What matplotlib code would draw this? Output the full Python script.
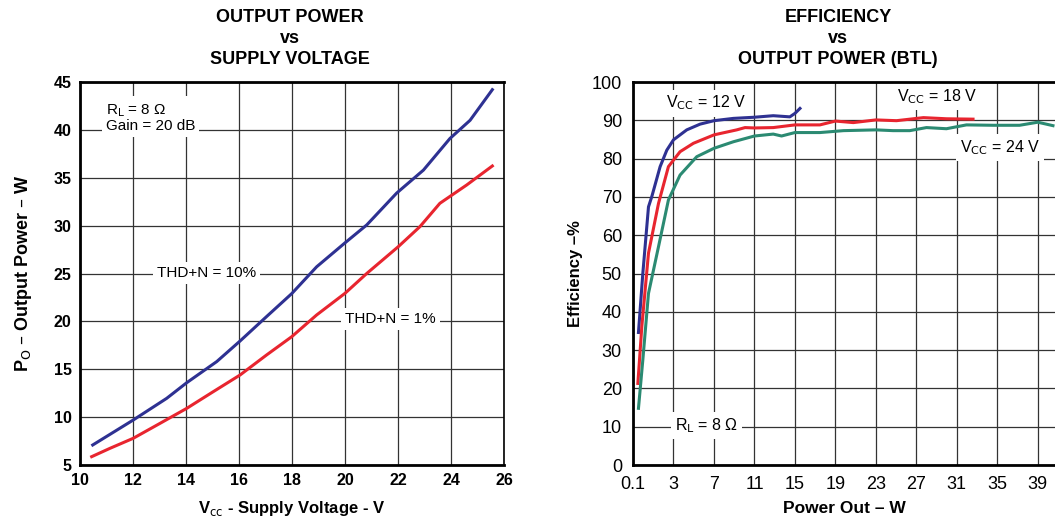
import matplotlib
matplotlib.use('Agg')
import matplotlib.pyplot as plt

plt.rcParams['font.family'] = ['Liberation Sans', 'DejaVu Sans']

# left chart: output power vs supply voltage
vcc_10 = [10.48, 12.01, 13.27, 14.03, 15.16, 16.04, 17.04, 17.99, 18.93, 20.0,
          20.82, 21.95, 22.96, 23.96, 24.72, 25.56]
po_10 = [7.09, 9.70, 11.96, 13.6, 15.8, 17.95, 20.5, 22.9, 25.7, 28.2,
         30.07, 33.4, 35.8, 39.1, 41.0, 44.2]
vcc_1 = [10.44, 11.13, 12.01, 13.02, 14.03, 15.03, 16.04, 17.04, 17.99, 18.93,
         20.0, 20.82, 22.01, 22.83, 23.58, 24.59, 25.56]
po_1 = [5.87, 6.74, 7.79, 9.35, 10.92, 12.66, 14.4, 16.49, 18.4, 20.67,
        22.93, 25.0, 27.8, 29.9, 32.33, 34.24, 36.23]

# right chart: efficiency vs output power (x in axis units, first tick "0.1" sits at -1)
p12 = [-0.46, -0.03, 0.53, 0.86, 1.68, 2.34, 3.0, 4.31, 5.63, 7.01, 8.92, 10.99,
       12.86, 14.5, 15.0, 15.5]
e12 = [34.6, 50.0, 67.4, 70.1, 77.9, 82.2, 84.9, 87.5, 89.0, 89.9, 90.5, 90.8,
       91.2, 90.9, 91.8, 93.1]
p18 = [-0.52, -0.13, 0.53, 1.52, 2.5, 3.65, 4.97, 7.01, 9.25, 10.07, 11.0, 12.86,
       15.0, 17.47, 19.0, 20.77, 23.0, 25.04, 27.7, 29.97, 32.6]
e18 = [21.3, 36.1, 55.3, 68.3, 77.9, 81.8, 84.0, 86.2, 87.5, 88.1, 88.0, 88.1,
       88.8, 88.8, 89.8, 89.4, 90.1, 89.9, 90.7, 90.4, 90.3]
p24 = [-0.46, -0.03, 0.53, 1.52, 2.5, 3.65, 5.3, 7.01, 8.92, 11.0, 12.86, 13.68,
       15.0, 17.47, 19.8, 23.0, 24.7, 26.35, 28.0, 29.97, 31.95, 34.6, 37.2, 39.0, 40.5]
e24 = [14.8, 27.4, 44.8, 57.0, 69.2, 75.7, 80.5, 82.7, 84.4, 85.9, 86.4, 85.9,
       86.8, 86.8, 87.3, 87.5, 87.3, 87.3, 88.1, 87.8, 88.8, 88.7, 88.7, 89.5, 88.6]
p_ticks = [-1, 3, 7, 11, 15, 19, 23, 27, 31, 35, 39]
p_labels = ['0.1', '3', '7', '11', '15', '19', '23', '27', '31', '35', '39']

blue = '#2e3192'
red = '#e8252f'
green = '#2b8a72'
grid_c = '#333333'
box = dict(facecolor='white', edgecolor='none', pad=3)

fig = plt.figure(figsize=(10.55, 5.19), dpi=100)

# ---- left
ax1 = fig.add_axes([80 / 1055, 54 / 519, 424 / 1055, 383 / 519])
ax1.plot(vcc_10, po_10, color=blue, lw=2.2, zorder=3)
ax1.plot(vcc_1, po_1, color=red, lw=2.2, zorder=3)
ax1.set_xlim(10, 26)
ax1.set_ylim(5, 45)
ax1.set_xticks(range(10, 27, 2))
ax1.set_yticks(range(5, 46, 5))
ax1.grid(True, color=grid_c, lw=0.9)
ax1.set_axisbelow(True)
ax1.tick_params(length=0, labelsize=11.5, pad=6)
for lab in ax1.get_xticklabels() + ax1.get_yticklabels():
    lab.set_fontweight('bold')
for s in ax1.spines.values():
    s.set_linewidth(1.2)
ax1.spines['left'].set_linewidth(2)
ax1.spines['bottom'].set_linewidth(2)
ax1.spines['top'].set_linewidth(2)
ax1.set_xlabel('V$_{\\rm cc}$ - Supply Voltage - V', fontsize=12, fontweight='bold', labelpad=8)
ax1.set_ylabel('P$_{\\rm O}$ – Output Power – W', fontsize=13, fontweight='bold', labelpad=14)
fig.text(290 / 1055, 1 - 9 / 519, 'OUTPUT POWER\nvs\nSUPPLY VOLTAGE', fontsize=13,
         fontweight='bold', ha='center', va='top', linespacing=1.3)
ax1.text(10.98, 42.9, 'R$_{\\rm L}$ = 8 Ω\nGain = 20 dB', fontsize=11, va='top',
         linespacing=1.05, bbox=box, zorder=2)
ax1.text(12.9, 25.05, 'THD+N = 10%', fontsize=11, va='center', bbox=box, zorder=2)
ax1.text(20.0, 20.25, 'THD+N = 1%', fontsize=11, va='center', bbox=box, zorder=2)

# ---- right
ax2 = fig.add_axes([633 / 1055, 54 / 519, 422 / 1055, 383 / 519])
ax2.plot(p12, e12, color=blue, lw=2.2, zorder=3)
ax2.plot(p18, e18, color=red, lw=2.2, zorder=3)
ax2.plot(p24, e24, color=green, lw=2.2, zorder=3)
ax2.set_xlim(-1, 40.7)
ax2.set_ylim(0, 100)
ax2.set_xticks(p_ticks)
ax2.set_xticklabels(p_labels)
ax2.set_yticks(range(0, 101, 10))
ax2.grid(True, color=grid_c, lw=0.9)
ax2.set_axisbelow(True)
ax2.tick_params(length=0, labelsize=13)
ax2.tick_params(axis='x', pad=8)
ax2.tick_params(axis='y', pad=8)
ax2.spines['right'].set_visible(False)
for k in ['left', 'bottom', 'top']:
    ax2.spines[k].set_linewidth(2)
ax2.set_xlabel('Power Out – W', fontsize=12.5, fontweight='bold', labelpad=6)
ax2.set_ylabel('Efficiency –%', fontsize=12, fontweight='bold', labelpad=6)
fig.text(838 / 1055, 1 - 9 / 519, 'EFFICIENCY\nvs\nOUTPUT POWER (BTL)', fontsize=13,
         fontweight='bold', ha='center', va='top', linespacing=1.3)
ax2.text(2.26, 94.5, 'V$_{\\rm CC}$ = 12 V', fontsize=11.5, va='center', bbox=box, zorder=2)
ax2.text(25.1, 96.2, 'V$_{\\rm CC}$ = 18 V', fontsize=11.5, va='center', bbox=box, zorder=2)
ax2.text(31.3, 82.8, 'V$_{\\rm CC}$ = 24 V', fontsize=11.5, va='center', bbox=box, zorder=2)
ax2.text(3.15, 10.4, 'R$_{\\rm L}$ = 8 Ω', fontsize=11.5, va='center', bbox=box, zorder=2)

fig.savefig('out.png', dpi=100)
